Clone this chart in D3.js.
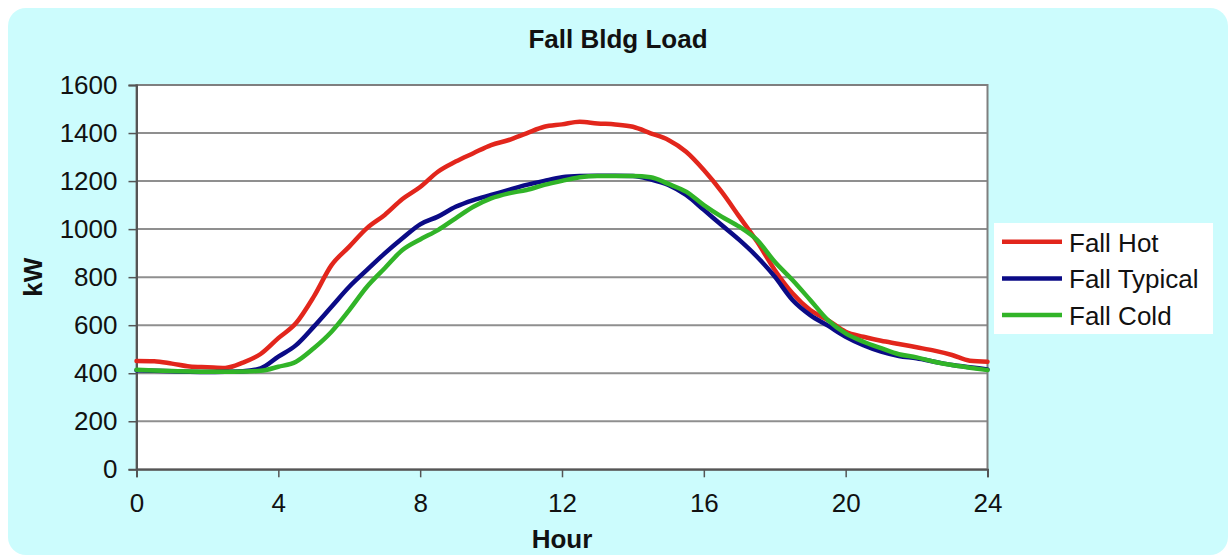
<!DOCTYPE html>
<html>
<head>
<meta charset="utf-8">
<script src="https://cdn.jsdelivr.net/npm/d3@7"></script>
<style>
  html, body { margin: 0; padding: 0; background: #ffffff; }
  svg { display: block; }
  text { font-family: "Liberation Sans", Arial, sans-serif; fill: #111; }
</style>
</head>
<body>
<svg id="chart" width="1230" height="557"></svg>
<script>
// Half-hourly building load (kW) for a fall day, three weather cases
const hours = d3.range(0, 24.01, 0.5);
const fallHot = [
  451, 450, 440, 428, 425, 422, 444, 480, 546, 609, 719, 850, 927, 1004, 1059, 1125,
  1175, 1239, 1281, 1316, 1350, 1371, 1399, 1426, 1436, 1447, 1440, 1436, 1426, 1399,
  1371, 1322, 1246, 1156, 1052, 948, 830, 733, 663, 621, 573, 552, 535, 522, 508, 494,
  476, 452, 448
];
const fallTypical = [
  412, 410, 408, 406, 405, 406, 408, 420, 469, 517, 594, 677, 760, 830, 899, 962,
  1020, 1052, 1093, 1121, 1142, 1163, 1184, 1201, 1216, 1221, 1222, 1222, 1221, 1207,
  1184, 1142, 1080, 1017, 955, 885, 802, 705, 642, 598, 552, 517, 490, 472, 462, 448,
  434, 425, 416
];
const fallCold = [
  414, 411, 409, 407, 406, 406, 407, 410, 427, 448, 504, 573, 663, 760, 837, 913,
  957, 996, 1045, 1093, 1128, 1149, 1163, 1184, 1201, 1216, 1221, 1221, 1221, 1216,
  1188, 1156, 1100, 1052, 1010, 955, 864, 788, 705, 621, 566, 531, 504, 479, 466, 448,
  434, 423, 413
];
const seriesNames = ["Fall Hot", "Fall Typical", "Fall Cold"];
const seriesColors = ["#e2261c", "#0b0b86", "#31b428"];
const xTicks = [0, 4, 8, 12, 16, 20, 24];
const yTicks = [0, 200, 400, 600, 800, 1000, 1200, 1400, 1600];

const svg = d3.select("#chart");

// panel background
svg.append("rect")
  .attr("x", 8).attr("y", 8)
  .attr("width", 1220).attr("height", 547)
  .attr("rx", 18).attr("ry", 18)
  .attr("fill", "#ccfcfd");

const plot = { left: 136.5, right: 987.5, top: 85, bottom: 469.3 };

const x = d3.scaleLinear().domain([0, 24]).range([plot.left, plot.right]);
const y = d3.scaleLinear().domain([0, 1600]).range([plot.bottom, plot.top]);

// plot area
svg.append("rect")
  .attr("x", plot.left).attr("y", plot.top)
  .attr("width", plot.right - plot.left)
  .attr("height", plot.bottom - plot.top)
  .attr("fill", "#ffffff");

// horizontal gridlines
svg.append("g")
  .selectAll("line")
  .data(yTicks.filter(v => v > 0 && v < 1600))
  .join("line")
  .attr("x1", plot.left).attr("x2", plot.right)
  .attr("y1", d => y(d)).attr("y2", d => y(d))
  .attr("stroke", "#8f8f8f").attr("stroke-width", 2);

// plot frame
svg.append("rect")
  .attr("x", plot.left).attr("y", plot.top)
  .attr("width", plot.right - plot.left)
  .attr("height", plot.bottom - plot.top)
  .attr("fill", "none")
  .attr("stroke", "#7f7f7f").attr("stroke-width", 2);

// axes
const yAxis = d3.axisLeft(y).tickValues(yTicks).tickSize(8).tickPadding(11).tickFormat(d3.format("d"));
const gy = svg.append("g").attr("transform", `translate(${plot.left},0)`).call(yAxis);
gy.select(".domain").attr("stroke", "#555").attr("stroke-width", 2);
gy.selectAll(".tick line").attr("stroke", "#555").attr("stroke-width", 1.5);
gy.selectAll(".tick text").attr("font-size", 26).attr("fill", "#111")
  .attr("font-family", "Liberation Sans, Arial, sans-serif");

const xAxis = d3.axisBottom(x).tickValues(xTicks).tickSize(8).tickPadding(16).tickFormat(d3.format("d"));
const gx = svg.append("g").attr("transform", `translate(0,${plot.bottom})`).call(xAxis);
gx.select(".domain").attr("stroke", "#555").attr("stroke-width", 2);
gx.selectAll(".tick line").attr("stroke", "#555").attr("stroke-width", 1.5);
gx.selectAll(".tick text").attr("font-size", 26).attr("fill", "#111")
  .attr("font-family", "Liberation Sans, Arial, sans-serif");

// series lines
const allSeries = [fallHot, fallTypical, fallCold];
const line = d3.line()
  .x((d, i) => x(hours[i]))
  .y(d => y(d))
  .curve(d3.curveMonotoneX);

svg.append("g")
  .selectAll("path")
  .data(allSeries)
  .join("path")
  .attr("d", d => line(d))
  .attr("fill", "none")
  .attr("stroke", (d, i) => seriesColors[i])
  .attr("stroke-width", 4.5)
  .attr("stroke-linejoin", "round")
  .attr("stroke-linecap", "round");

// title
svg.append("text")
  .attr("x", 618).attr("y", 48)
  .attr("text-anchor", "middle")
  .attr("font-size", 26).attr("font-weight", "bold")
  .text("Fall Bldg Load");

// axis titles
svg.append("text")
  .attr("x", (plot.left + plot.right) / 2).attr("y", 548)
  .attr("text-anchor", "middle")
  .attr("font-size", 26).attr("font-weight", "bold")
  .text("Hour");

svg.append("text")
  .attr("transform", `translate(42,${(plot.top + plot.bottom) / 2}) rotate(-90)`)
  .attr("text-anchor", "middle")
  .attr("font-size", 26).attr("font-weight", "bold")
  .text("kW");

// legend
const legend = svg.append("g");
legend.append("rect")
  .attr("x", 994).attr("y", 223)
  .attr("width", 219).attr("height", 111)
  .attr("fill", "#ffffff");

const rows = legend.selectAll("g.row")
  .data(seriesNames)
  .join("g")
  .attr("class", "row")
  .attr("transform", (d, i) => `translate(0,${241.7 + i * 36.7})`);

rows.append("line")
  .attr("x1", 1002).attr("x2", 1062)
  .attr("y1", 0).attr("y2", 0)
  .attr("stroke", (d, i) => seriesColors[i])
  .attr("stroke-width", 4.5);

rows.append("text")
  .attr("x", 1069).attr("y", 10)
  .attr("font-size", 26)
  .text(d => d);
</script>
</body>
</html>
